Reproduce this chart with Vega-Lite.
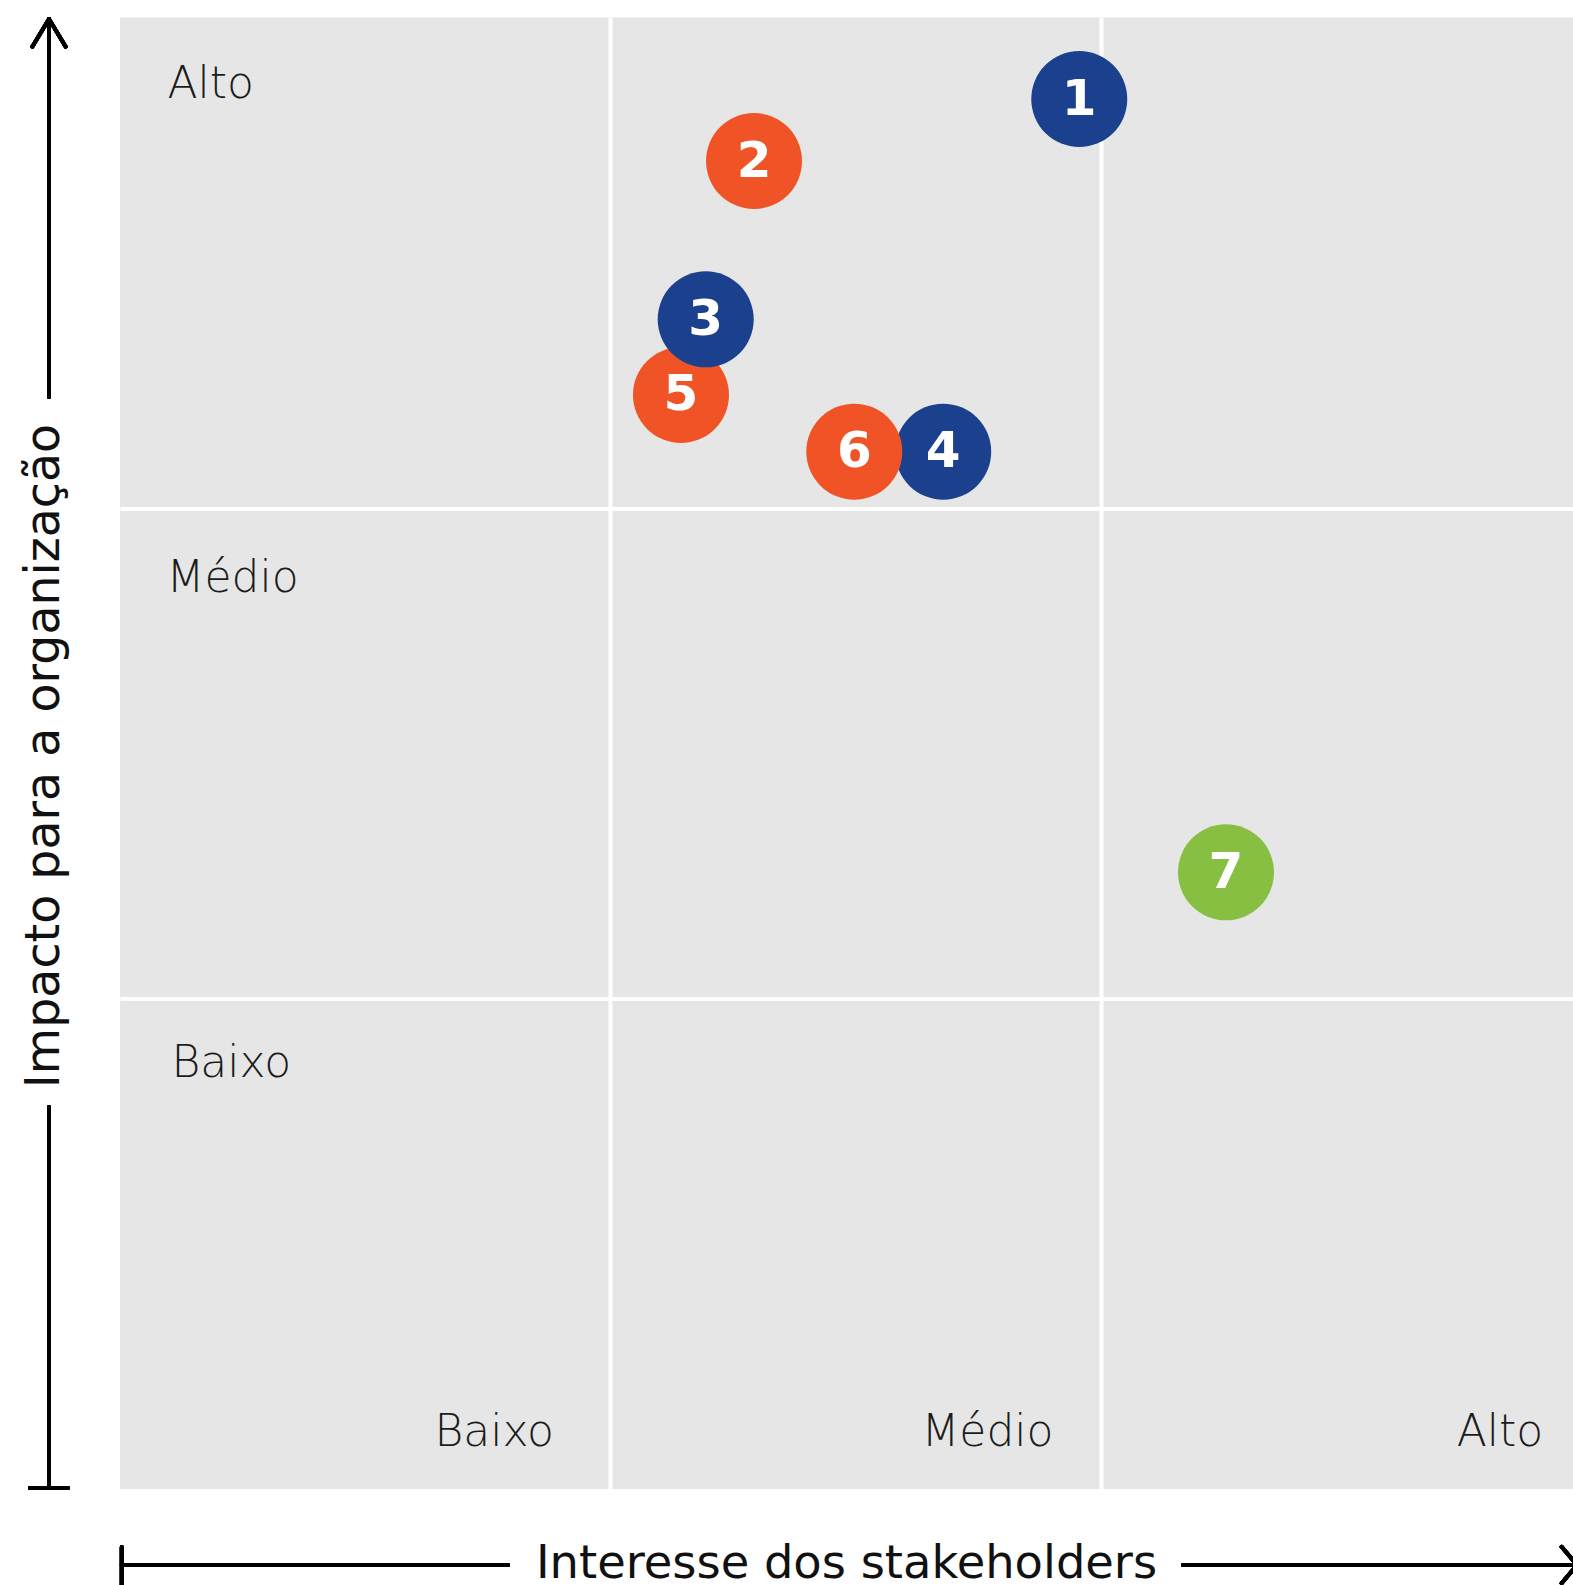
{
  "$schema": "https://vega.github.io/schema/vega-lite/v6.json",
  "width": 1453,
  "height": 1471.5,
  "autosize": {"type": "none"},
  "padding": {"left": 120, "top": 17.5, "right": 0, "bottom": 96},
  "background": "white",
  "config": {
    "view": {"fill": "#e6e6e6", "stroke": null},
    "font": "DejaVu Sans"
  },
  "data": {
    "values": [
      {"id": "1", "categoria": "A", "interesse": 1.9557, "impacto": 2.8338},
      {"id": "2", "categoria": "B", "interesse": 1.2926, "impacto": 2.7074},
      {"id": "5", "categoria": "B", "interesse": 1.1437, "impacto": 2.2304},
      {"id": "3", "categoria": "A", "interesse": 1.1941, "impacto": 2.3847},
      {"id": "4", "categoria": "A", "interesse": 1.6783, "impacto": 2.1148},
      {"id": "6", "categoria": "B", "interesse": 1.497, "impacto": 2.1148},
      {"id": "7", "categoria": "C", "interesse": 2.2548, "impacto": 1.2573}
    ]
  },
  "layer": [
    {
      "mark": {"type": "circle", "size": 9216, "opacity": 1},
      "encoding": {
        "x": {
          "field": "interesse", "type": "quantitative",
          "scale": {"domain": [0, 2.9623], "nice": false, "zero": false},
          "axis": {
            "orient": "bottom", "values": [1, 2, 2.96],
            "labelExpr": "datum.value == 1 ? 'Baixo' : datum.value == 2 ? 'Médio' : 'Alto'",
            "domain": false, "ticks": false, "tickSize": 0,
            "labelAlign": "right", "labelBaseline": "alphabetic",
            "labelPadding": -44,
            "labelOffset": {"condition": [{"test": "datum.value == 1", "value": -57}, {"test": "datum.value > 2.5", "value": -29.2}], "value": -48},
            "labelFontSize": 44, "labelFont": "DejaVu Sans", "labelFontWeight": 300,
            "labelColor": "#1c1c1c", "labelFlush": false, "labelOverlap": false, "labelBound": false,
            "grid": true,
            "gridColor": {"condition": {"test": "datum.value > 2.5", "value": "transparent"}, "value": "#ffffff"},
            "gridWidth": 4, "gridOpacity": 1,
            "title": "Interesse dos stakeholders",
            "titleFont": "DejaVu Sans", "titleFontSize": 46.4, "titleFontWeight": "normal",
            "titleColor": "#111111", "titleX": 726, "titleY": 88.5,
            "titleAlign": "center", "titleBaseline": "alphabetic", "titleAngle": 0
          }
        },
        "y": {
          "field": "impacto", "type": "quantitative",
          "scale": {"domain": [0, 3], "nice": false, "zero": false},
          "axis": {
            "orient": "left", "values": [3, 2, 1],
            "labelExpr": "datum.value == 3 ? 'Alto' : datum.value == 2 ? 'Médio' : 'Baixo'",
            "domain": false, "ticks": false, "tickSize": 0,
            "labelAlign": "left", "labelBaseline": "alphabetic",
            "labelPadding": {"condition": [{"test": "datum.value == 1", "value": -51}, {"test": "datum.value == 2", "value": -46}], "value": -47},
            "labelOffset": {"condition": [{"test": "datum.value == 1", "value": 77.5}, {"test": "datum.value == 2", "value": 83}], "value": 80.2},
            "labelFontSize": 44, "labelFont": "DejaVu Sans", "labelFontWeight": 300,
            "labelColor": "#1c1c1c", "labelFlush": false, "labelOverlap": false, "labelBound": false,
            "grid": true,
            "gridColor": {"condition": {"test": "datum.value == 3", "value": "transparent"}, "value": "#ffffff"},
            "gridWidth": 4, "gridOpacity": 1,
            "title": "Impacto para a organização",
            "titleFont": "DejaVu Sans", "titleFontSize": 47.5, "titleFontWeight": "normal",
            "titleColor": "#111111", "titleX": -61.7, "titleY": 738,
            "titleAlign": "center", "titleBaseline": "alphabetic", "titleAngle": -90
          }
        },
        "color": {
          "field": "categoria", "type": "nominal",
          "scale": {"domain": ["A", "B", "C"], "range": ["#1a408e", "#f05426", "#86bf41"]},
          "legend": null
        }
      }
    },
    {
      "mark": {"type": "text", "color": "#ffffff", "fontSize": 50, "fontWeight": "bold", "font": "DejaVu Sans", "align": "center", "baseline": "alphabetic", "dy": 15.5},
      "encoding": {
        "x": {"field": "interesse", "type": "quantitative"},
        "y": {"field": "impacto", "type": "quantitative"},
        "text": {"field": "id"}
      }
    },
    {
      "mark": {"type": "rule", "color": "#000000", "strokeWidth": 3.8, "strokeCap": "round"},
      "encoding": {
        "x": {"datum": -0.14475, "type": "quantitative"},
        "y": {"datum": 2.99694, "type": "quantitative"},
        "y2": {"datum": 2.2263}
      }
    },
    {
      "mark": {"type": "rule", "color": "#000000", "strokeWidth": 3.8, "strokeCap": "round"},
      "encoding": {
        "x": {"datum": -0.14475, "type": "quantitative"},
        "y": {"datum": 0.7788, "type": "quantitative"},
        "y2": {"datum": 0.002}
      }
    },
    {
      "mark": {"type": "rule", "color": "#000000", "strokeWidth": 3.8, "strokeCap": "round"},
      "encoding": {
        "x": {"datum": -0.18349, "type": "quantitative"},
        "x2": {"datum": -0.10601},
        "y": {"datum": 0.002, "type": "quantitative"}
      }
    },
    {
      "mark": {"type": "rule", "color": "#000000", "strokeWidth": 3.8, "strokeCap": "round"},
      "encoding": {
        "x": {"datum": 0.0035, "type": "quantitative"},
        "x2": {"datum": 0.79103},
        "y": {"datum": -0.15494, "type": "quantitative"}
      }
    },
    {
      "mark": {"type": "rule", "color": "#000000", "strokeWidth": 3.8, "strokeCap": "round"},
      "encoding": {
        "x": {"datum": 2.16718, "type": "quantitative"},
        "x2": {"datum": 2.99},
        "y": {"datum": -0.15494, "type": "quantitative"}
      }
    },
    {
      "mark": {"type": "rule", "color": "#000000", "strokeWidth": 3.8, "strokeCap": "round"},
      "encoding": {
        "x": {"datum": 0.0035, "type": "quantitative"},
        "y": {"datum": -0.11825, "type": "quantitative"},
        "y2": {"datum": -0.2}
      }
    },
    {
      "mark": {"type": "point", "shape": "M-1,1.66L0,0L1,1.66", "size": 1115, "filled": false, "stroke": "#000000", "strokeWidth": 3.8, "strokeCap": "round", "strokeJoin": "round", "opacity": 1},
      "encoding": {
        "x": {"datum": -0.14475, "type": "quantitative"},
        "y": {"datum": 2.99694, "type": "quantitative"}
      }
    },
    {
      "mark": {"type": "point", "shape": "M-0.84,-1L0,0L-0.84,1", "size": 1340, "filled": false, "stroke": "#000000", "strokeWidth": 3.8, "strokeCap": "round", "strokeJoin": "round", "opacity": 1},
      "encoding": {
        "x": {"datum": 2.97044, "type": "quantitative"},
        "y": {"datum": -0.15494, "type": "quantitative"}
      }
    }
  ]
}
